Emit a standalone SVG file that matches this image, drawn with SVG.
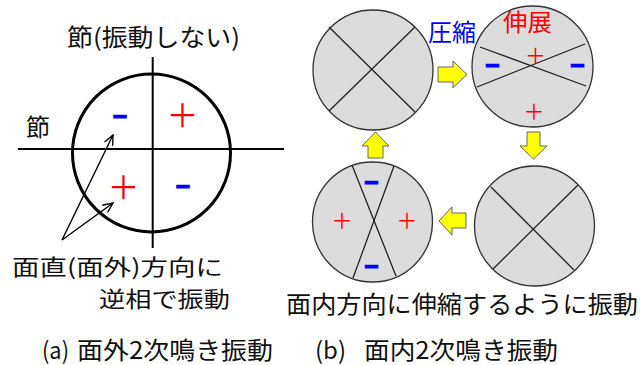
<svg xmlns="http://www.w3.org/2000/svg" width="640" height="365" viewBox="0 0 640 365">
<style>
.t{font-family:"Noto Sans CJK JP","Liberation Sans",sans-serif;font-size:24px;fill:#111}
.s{font-size:22px}
.plus{font-family:"Noto Sans CJK JP",sans-serif;fill:#f00;text-anchor:middle}
.minus{font-family:"Liberation Sans",sans-serif;font-weight:bold;fill:#00f;stroke:#00f;stroke-width:1.2;text-anchor:middle;font-size:25px}
.disk{fill:#dcdcdc;stroke:#333;stroke-width:1.3}
.cl{stroke:#222;stroke-width:1.3;fill:none}
.ya{fill:#ffff00;stroke:#666;stroke-width:1}
</style>
<defs>
<marker id="open" markerWidth="12" markerHeight="10" refX="11" refY="5" orient="auto" markerUnits="userSpaceOnUse">
<path d="M1,0.5 L11,5 L1,9.5" fill="none" stroke="#000" stroke-width="1.4"/>
</marker>
</defs>

<!-- (a) out-of-plane -->
<g id="nodeA">
<circle cx="151.5" cy="153" r="79" fill="none" stroke="#000" stroke-width="3"/>
<line x1="152.7" y1="57" x2="152.7" y2="248" stroke="#000" stroke-width="2"/>
<line x1="18" y1="149" x2="284" y2="149" stroke="#000" stroke-width="2"/>
<text class="minus" x="120" y="123.5">–</text>
<text class="plus" x="182.5" y="127" font-size="32">＋</text>
<text class="plus" x="123.5" y="198.5" font-size="32">＋</text>
<text class="minus" x="183" y="194">–</text>
</g>
<g id="labelsA">
<text class="t" x="67" y="46" textLength="173" lengthAdjust="spacingAndGlyphs">節(振動しない)</text>
<text class="t" x="26" y="136">節</text>
<text class="t s" x="12" y="275" textLength="211" lengthAdjust="spacingAndGlyphs">面直(面外)方向に</text>
<text class="t s" x="99" y="307" textLength="131" lengthAdjust="spacingAndGlyphs">逆相で振動</text>
<text class="t" x="42" y="359" textLength="27" lengthAdjust="spacingAndGlyphs">(a)</text>
<text class="t" x="77" y="359" textLength="196" lengthAdjust="spacingAndGlyphs">面外2次鳴き振動</text>
</g>

<!-- (b) in-plane -->
<g id="nodeTL">
<circle class="disk" cx="373" cy="70" r="60"/>
<line class="cl" x1="329" y1="27" x2="415" y2="112"/>
<line class="cl" x1="415" y1="27" x2="329" y2="111"/>
</g>
<g id="nodeTR">
<circle class="disk" cx="532.5" cy="66.5" r="60.5"/>
<line class="cl" x1="480" y1="47" x2="586" y2="86"/>
<line class="cl" x1="477" y1="87" x2="585" y2="44"/>
<text class="plus" x="535.5" y="63" font-size="21">＋</text>
<text class="plus" x="534" y="119" font-size="21">＋</text>
<text class="minus" x="492.5" y="72.5">–</text>
<text class="minus" x="577.5" y="72.5">–</text>
</g>
<g id="nodeBR">
<circle class="disk" cx="534.5" cy="226" r="60"/>
<line class="cl" x1="491" y1="187" x2="574" y2="270"/>
<line class="cl" x1="578" y1="185" x2="493" y2="269"/>
</g>
<g id="nodeBL">
<circle class="disk" cx="372.5" cy="222" r="60"/>
<line class="cl" x1="352" y1="165" x2="396" y2="276"/>
<line class="cl" x1="394" y1="166" x2="353" y2="278"/>
<text class="minus" x="371.5" y="189.5">–</text>
<text class="minus" x="371.5" y="273.5">–</text>
<text class="plus" x="342" y="228" font-size="21">＋</text>
<text class="plus" x="407" y="228" font-size="21">＋</text>
</g>
<g id="labelsB">
<text class="t" x="428" y="41" textLength="48" lengthAdjust="spacingAndGlyphs" style="fill:#00f">圧縮</text>
<text class="t" x="503" y="31" textLength="49" lengthAdjust="spacingAndGlyphs" style="fill:#f00">伸展</text>
<text class="t" x="286" y="313" textLength="352" lengthAdjust="spacingAndGlyphs">面内方向に伸縮するように振動</text>
<text class="t" x="315" y="359" textLength="31" lengthAdjust="spacingAndGlyphs">(b)</text>
<text class="t" x="364" y="359" textLength="194" lengthAdjust="spacingAndGlyphs">面内2次鳴き振動</text>
</g>

<g id="connectors">
<line x1="62" y1="240" x2="113" y2="135" stroke="#000" stroke-width="1.4" marker-end="url(#open)"/>
<line x1="62" y1="240" x2="113" y2="203" stroke="#000" stroke-width="1.4" marker-end="url(#open)"/>
<path class="ya" d="M438,67 H453 V61 L467,74.5 L453,88 V82 H438 Z"/>
<path class="ya" d="M527,132 H540 V146 H547 L533.5,159 L520,146 H527 Z"/>
<path class="ya" d="M466,213 H452 V207 L439,221 L452,235 V228 H466 Z"/>
<path class="ya" d="M368,158 V146 H362 L375.5,132 L389,146 H383 V158 Z"/>
</g>
</svg>
